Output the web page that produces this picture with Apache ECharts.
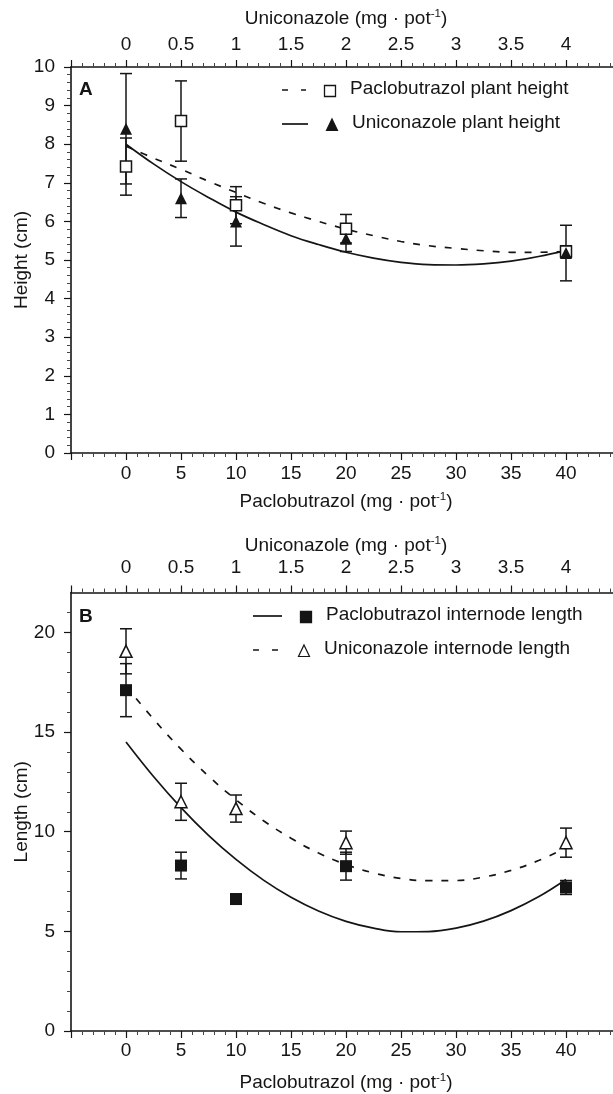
<!DOCTYPE html>
<html><head><meta charset="utf-8">
<script src="https://cdn.jsdelivr.net/npm/echarts@6/dist/echarts.min.js"></script>
<style>html,body{margin:0;padding:0;background:#fff}#c{width:613px;height:1094px}</style>
</head><body><div id="c"></div>
<script>
// ---------- data ----------
const pacDoses = [0, 5, 10, 20, 40];          // Paclobutrazol (mg·pot-1)
const uniDoses = [0, 0.5, 1, 2, 4];           // Uniconazole (mg·pot-1)

const pacHeight = [7.42, 8.6, 6.42, 5.81, 5.22];
const pacHeightErr = [0.74, 1.04, 0.48, 0.37, 0.15];
const uniHeight = [8.4, 6.6, 6.0, 5.55, 5.18];
const uniHeightErr = [1.43, 0.5, 0.64, 0.33, 0.72];

const pacInternode = [17.1, 8.3, 6.62, 8.27, 7.2];
const pacInternodeErr = [1.33, 0.67, 0.25, 0.7, 0.35];
const uniInternode = [19.05, 11.5, 11.16, 9.45, 9.45];
const uniInternodeErr = [1.13, 0.93, 0.68, 0.58, 0.73];

// fitted curves
const pacFitX = [0, 2.5, 5, 7.5, 10, 12.5, 15, 17.5, 20, 22.5, 25, 27.5, 30, 32.5, 35, 37.5, 40];
const uniFitX = [0, 0.25, 0.5, 0.75, 1, 1.25, 1.5, 1.75, 2, 2.25, 2.5, 2.75, 3, 3.25, 3.5, 3.75, 4];
const pacHeightFit = [7.95, 7.64, 7.35, 7.04, 6.75, 6.47, 6.22, 6.0, 5.8, 5.63, 5.48, 5.37, 5.3, 5.24, 5.2, 5.2, 5.22];
const uniHeightFit = [8.0, 7.49, 7.03, 6.62, 6.24, 5.92, 5.63, 5.4, 5.2, 5.05, 4.94, 4.88, 4.87, 4.9, 4.97, 5.09, 5.25];
const pacInternodeFit = [14.5, 12.77, 11.21, 9.82, 8.61, 7.57, 6.71, 6.02, 5.5, 5.16, 4.98, 4.99, 5.16, 5.51, 6.04, 6.73, 7.6];
const uniInternodeFit = [17.3, 15.65, 14.14, 12.79, 11.6, 10.55, 9.67, 8.93, 8.35, 7.93, 7.65, 7.54, 7.55, 7.72, 8.06, 8.55, 9.2];

const bottomTickLabels = [0, 5, 10, 15, 20, 25, 30, 35, 40];
const topTickLabels = [0, 0.5, 1, 1.5, 2, 2.5, 3, 3.5, 4];
const heightTickLabels = [0, 1, 2, 3, 4, 5, 6, 7, 8, 9, 10];
const lengthTickLabels = [0, 5, 10, 15, 20];

// ---------- helpers ----------
const FONT = 'Liberation Sans, Arial, Helvetica, sans-serif';
const INK = '#151515';
const FS = 19;

function axisName(base) { return '{n|' + base + ' (mg · pot}{s|-1}{n|)}'; }
const nameStyle = {
  color: INK, fontFamily: FONT, fontSize: FS,
  rich: {
    n: { fontSize: FS, fontFamily: FONT, color: INK, lineHeight: 22 },
    s: { fontSize: 11.5, fontFamily: FONT, color: INK, verticalAlign: 'top', lineHeight: 22 }
  }
};
function inList(list) { return v => list.some(t => Math.abs(t - v) < 1e-6) ? String(+v.toFixed(2)) : ''; }

function xAxisDef(grid, pos, min, max, interval, labels, name, margin, nameGap) {
  return {
    type: 'value', gridIndex: grid, position: pos, min, max, interval,
    name: axisName(name), nameLocation: 'middle', nameGap, nameMoveOverlap: false, nameTextStyle: nameStyle,
    axisLine: { show: true, onZero: false, lineStyle: { color: INK, width: 1.6 } },
    axisTick: { show: true, length: 7, lineStyle: { color: INK, width: 1.2 } },
    minorTick: { show: true, splitNumber: 5, length: 4, lineStyle: { color: '#444', width: 1 } },
    axisLabel: { formatter: inList(labels), margin, color: INK, fontSize: FS, fontFamily: FONT },
    splitLine: { show: false }, minorSplitLine: { show: false }
  };
}
function yAxisDef(grid, max, interval, labels, name) {
  return {
    type: 'value', gridIndex: grid, min: 0, max, interval,
    name, nameLocation: 'middle', nameRotate: 90, nameGap: 40, nameMoveOverlap: false,
    nameTextStyle: { color: INK, fontSize: FS, fontFamily: FONT },
    axisLine: { show: true, onZero: false, lineStyle: { color: INK, width: 1.6 } },
    axisTick: { show: true, length: 7, customValues: labels, lineStyle: { color: INK, width: 1.2 } },
    minorTick: { show: true, splitNumber: 5, length: 4, lineStyle: { color: '#444', width: 1 } },
    axisLabel: { formatter: inList(labels), customValues: labels, margin: 16, color: INK, fontSize: FS, fontFamily: FONT },
    splitLine: { show: false }, minorSplitLine: { show: false }
  };
}

function errRender(params, api) {
  const x = api.value(0), y = api.value(1), e = api.value(2);
  const hi = api.coord([x, y + e]), lo = api.coord([x, y - e]);
  const w = 6;
  const style = { stroke: INK, lineWidth: 1.5 };
  return { type: 'group', children: [
    { type: 'line', shape: { x1: hi[0], y1: hi[1], x2: lo[0], y2: lo[1] }, style },
    { type: 'line', shape: { x1: hi[0] - w, y1: hi[1], x2: hi[0] + w, y2: hi[1] }, style },
    { type: 'line', shape: { x1: lo[0] - w, y1: lo[1], x2: lo[0] + w, y2: lo[1] }, style }
  ] };
}
function errSeries(xIdx, yIdx, xs, ys, es) {
  return { type: 'custom', xAxisIndex: xIdx, yAxisIndex: yIdx, renderItem: errRender, z: 3,
    encode: { x: 0, y: 1 }, data: xs.map((x, i) => [x, ys[i], es[i]]), silent: true };
}
function fitSeries(xIdx, yIdx, xs, ys, dashed) {
  return { type: 'line', xAxisIndex: xIdx, yAxisIndex: yIdx, smooth: 0.4, showSymbol: false, z: 2,
    lineStyle: { color: INK, width: 1.7, type: dashed ? [7, 9] : 'solid' },
    data: xs.map((x, i) => [x, ys[i]]), silent: true };
}
function markSeries(xIdx, yIdx, xs, ys, symbol, size, filled) {
  return { type: 'scatter', xAxisIndex: xIdx, yAxisIndex: yIdx, symbol, symbolSize: size, z: 4,
    itemStyle: filled ? { color: INK, opacity: 1 } : { color: '#fff', borderColor: INK, borderWidth: 1.5, opacity: 1 },
    data: xs.map((x, i) => [x, ys[i]]), silent: true };
}

// legend (graphic)
function legendRow(x0, x1, y, dashed, shape, filled, label) {
  const stroke = { stroke: INK, lineWidth: 1.7 };
  if (dashed) stroke.lineDash = [6, 13];
  const items = [{ type: 'line', shape: { x1: x0, y1: y, x2: x1, y2: y }, style: stroke }];
  const mx = x1 + 24, s = 5.5;
  const fill = filled ? INK : '#fff';
  if (shape === 'rect') {
    items.push({ type: 'rect', shape: { x: mx - s, y: y - s + 1, width: 2 * s, height: 2 * s },
      style: { fill, stroke: INK, lineWidth: 1.3 } });
  } else {
    items.push({ type: 'polygon', shape: { points: [[mx, y - s + 0.5], [mx + s, y + s + 1], [mx - s, y + s + 1]] },
      style: { fill, stroke: INK, lineWidth: 1.2 } });
  }
  items.push({ type: 'text', left: mx + 20, top: y - 11,
    style: { text: label, fill: INK, font: FS + 'px ' + FONT } });
  return items;
}

const graphics = [].concat(
  [{ type: 'text', left: 79, top: 80, style: { text: 'A', fill: INK, font: 'bold 19px ' + FONT } }],
  legendRow(282, 306, 90, true, 'rect', false, 'Paclobutrazol plant height'),
  legendRow(282, 308, 124, false, 'triangle', true, 'Uniconazole plant height'),
  [{ type: 'text', left: 79, top: 607, style: { text: 'B', fill: INK, font: 'bold 19px ' + FONT } }],
  legendRow(253, 282, 616, false, 'rect', true, 'Paclobutrazol internode length'),
  legendRow(253, 280, 650, true, 'triangle', false, 'Uniconazole internode length')
);

const option = {
  animation: false,
  backgroundColor: '#fff',
  grid: [
    { left: 71, top: 67, width: 550, height: 386, containLabel: false, outerBoundsMode: 'none' },
    { left: 71, top: 592.5, width: 550, height: 438.5, containLabel: false, outerBoundsMode: 'none' }
  ],
  xAxis: [
    xAxisDef(0, 'bottom', -5, 45, 5, bottomTickLabels, 'Paclobutrazol', 11, 38),
    xAxisDef(0, 'top', -0.5, 4.5, 0.5, topTickLabels, 'Uniconazole', 13, 37),
    xAxisDef(1, 'bottom', -5, 45, 5, bottomTickLabels, 'Paclobutrazol', 10, 41),
    xAxisDef(1, 'top', -0.5, 4.5, 0.5, topTickLabels, 'Uniconazole', 15, 36)
  ],
  yAxis: [
    yAxisDef(0, 10, 1, heightTickLabels, 'Height (cm)'),
    yAxisDef(1, 22, 5, lengthTickLabels, 'Length (cm)')
  ],
  graphic: graphics,
  series: [
    fitSeries(0, 0, pacFitX, pacHeightFit, true),
    fitSeries(1, 0, uniFitX, uniHeightFit, false),
    errSeries(0, 0, pacDoses, pacHeight, pacHeightErr),
    errSeries(1, 0, uniDoses, uniHeight, uniHeightErr),
    markSeries(0, 0, pacDoses, pacHeight, 'rect', 11, false),
    markSeries(1, 0, uniDoses, uniHeight, 'triangle', 12, true),

    fitSeries(2, 1, pacFitX, pacInternodeFit, false),
    fitSeries(3, 1, uniFitX, uniInternodeFit, true),
    errSeries(2, 1, pacDoses, pacInternode, pacInternodeErr),
    errSeries(3, 1, uniDoses, uniInternode, uniInternodeErr),
    markSeries(2, 1, pacDoses, pacInternode, 'rect', 12, true),
    markSeries(3, 1, uniDoses, uniInternode, 'triangle', 12, false)
  ]
};
echarts.init(document.getElementById('c'), null, { renderer: 'canvas' }).setOption(option);
</script></body></html>
